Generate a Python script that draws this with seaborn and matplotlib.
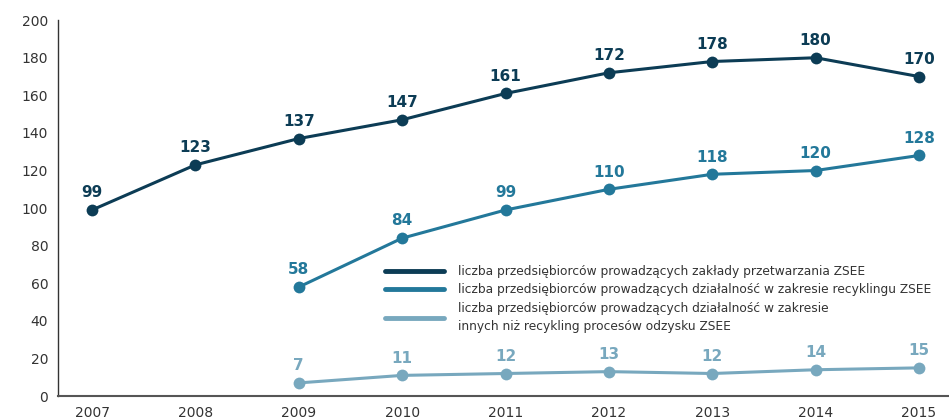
import pandas as pd
import matplotlib
matplotlib.use("Agg")
import matplotlib.pyplot as plt
import seaborn as sns

# Dane
lata = [2007, 2008, 2009, 2010, 2011, 2012, 2013, 2014, 2015]
lata_b = [2009, 2010, 2011, 2012, 2013, 2014, 2015]
przetwarzanie = [99, 123, 137, 147, 161, 172, 178, 180, 170]
recykling = [58, 84, 99, 110, 118, 120, 128]
inne_odzysk = [7, 11, 12, 13, 12, 14, 15]

etykiety = [
    "liczba przedsiębiorców prowadzących zakłady przetwarzania ZSEE",
    "liczba przedsiębiorców prowadzących działalność w zakresie recyklingu ZSEE",
    "liczba przedsiębiorców prowadzących działalność w zakresie\ninnych niż recykling procesów odzysku ZSEE",
]
kolory = ["#0c3c55", "#23789a", "#78a8be"]

df = pd.concat([
    pd.DataFrame({"rok": lata, "wartosc": przetwarzanie, "seria": etykiety[0]}),
    pd.DataFrame({"rok": lata_b, "wartosc": recykling, "seria": etykiety[1]}),
    pd.DataFrame({"rok": lata_b, "wartosc": inne_odzysk, "seria": etykiety[2]}),
])

sns.set_style("white")
plt.rcParams["font.family"] = ["DejaVu Sans"]

fig = plt.figure(figsize=(9.49, 4.2), dpi=100)
ax = fig.add_axes([0.061, 0.057, 0.939, 0.895])

sns.lineplot(data=df, x="rok", y="wartosc", hue="seria", palette=kolory,
             hue_order=etykiety, marker="o", markersize=8.5, markeredgewidth=0,
             linewidth=2.2, ax=ax)

# Etykiety wartości
for seria, kolor in zip(etykiety, kolory):
    sub = df[df["seria"] == seria]
    for x, y in zip(sub["rok"], sub["wartosc"]):
        ax.annotate(str(y), (x, y), xytext=(0, 7), textcoords="offset points",
                    ha="center", va="bottom", fontsize=11, fontweight="bold",
                    color=kolor)

ax.set_xlim(2006.67, 2015.29)
ax.set_ylim(0, 200)
ax.set_yticks(range(0, 201, 20))
ax.set_xticks(lata)
ax.set_xlabel("")
ax.set_ylabel("")
ax.tick_params(axis="both", length=0, labelsize=10, colors="#333333", pad=7)

sns.despine(ax=ax, top=True, right=True)
ax.spines["left"].set_color("#333333")
ax.spines["left"].set_linewidth(1.0)
ax.spines["bottom"].set_color("#555555")
ax.spines["bottom"].set_linewidth(1.5)

leg = ax.legend(loc="upper left", bbox_to_anchor=(0.362, 0.362), frameon=False,
                fontsize=8.85, handlelength=4.8, handletextpad=1.1,
                labelspacing=0.45, borderaxespad=0)
for line in leg.get_lines():
    line.set_linewidth(3.5)
    line.set_marker("")
for t in leg.get_texts():
    t.set_color("#333333")
    t.set_linespacing(1.55)

fig.savefig("out.png", dpi=100)
